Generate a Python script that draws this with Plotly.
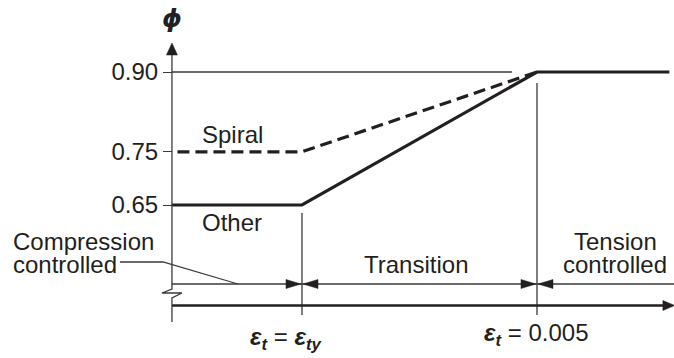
import plotly.graph_objects as go

# strain break points (x) and strength reduction factors (y)
eps_start = 0.00034
eps_ty = 0.002
eps_tc = 0.005
eps_end = 0.00669

other_x = [eps_start, eps_ty, eps_tc, eps_end]
other_phi = [0.65, 0.65, 0.90, 0.90]
spiral_x = [eps_start + 0.00007, eps_ty, eps_tc]
spiral_phi = [0.75, 0.75, 0.90]

phi_ticks = [0.65, 0.75, 0.90]
phi_labels = ["0.65", "0.75", "0.90"]

INK = "#231f20"
THIN = "#3a3a3a"
FONT = "Liberation Sans, Arial, sans-serif"

# layout levels (in data units) for the axis drawing
y_dim = 0.5015      # dimension line
y_axis = 0.4611     # horizontal strain axis
y_top = 0.9545      # tip of the phi axis arrow
y_vline_lo = 0.4432

fig = go.Figure()
fig.add_trace(go.Scatter(x=spiral_x, y=spiral_phi, mode="lines",
                         line=dict(color=INK, width=3.2, dash="12px,6px"),
                         hoverinfo="skip"))
fig.add_trace(go.Scatter(x=other_x, y=other_phi, mode="lines",
                         line=dict(color=INK, width=3.2), hoverinfo="skip"))

line_thin = dict(color=THIN, width=1.3)
shapes = [
    # phi axis, reference line at 0.90 and the two limit lines
    dict(type="line", x0=eps_start, x1=eps_start, y0=y_dim, y1=y_top - 0.015, line=line_thin),
    dict(type="line", x0=eps_start, x1=0.00468, y0=0.90, y1=0.90, line=line_thin),
    dict(type="line", x0=eps_ty, x1=eps_ty, y0=y_vline_lo, y1=0.635, line=line_thin),
    dict(type="line", x0=eps_tc, x1=eps_tc, y0=y_vline_lo, y1=0.8793, line=line_thin),
    # dimension line
    dict(type="line", x0=eps_start, x1=0.0068, y0=y_dim, y1=y_dim, line=line_thin),
    # strain axis
    dict(type="line", x0=eps_start, x1=0.00665, y0=y_axis, y1=y_axis,
         line=dict(color=INK, width=2.6)),
]


def px_path(x, y, path, fill=INK, width=1.3):
    return dict(type="path", xsizemode="pixel", ysizemode="pixel",
                xanchor=x, yanchor=y, path=path, fillcolor=fill,
                line=dict(color=THIN if fill is None else INK, width=width))


# axis break and lower stub of the phi axis
shapes.append(px_path(eps_start, y_dim, "M0,0 V-5 L-10,-9 L10,-9 L0,-14 V-38", fill=None))
# arrow heads
shapes.append(px_path(eps_start, y_top, "M0,0 L-5.5,-12 L5.5,-12 Z", width=0.5))
shapes.append(px_path(0.00676, y_axis, "M0,0 L-12,5 L-12,-5 Z", width=0.5))
for xv in (eps_ty, eps_tc):
    shapes.append(px_path(xv, y_dim, "M-1,0 L-16,4.5 L-16,-4.5 Z", width=0.5))
    shapes.append(px_path(xv, y_dim, "M1,0 L16,4.5 L16,-4.5 Z", width=0.5))
# leader for "Compression controlled"
shapes.append(px_path(0.001183, y_dim, "M0,0 L-75,22 L-118,22", fill=None))
shapes.append(px_path(0.001183, y_dim, "M-2,0 A2,2 0 1,1 2,0 A2,2 0 1,1 -2,0 Z", width=0.5))

tf = dict(family=FONT, size=24, color=INK)
ann = [
    dict(x=eps_start, y=1.0, text="<b><i>ϕ</i></b>", xanchor="center", yanchor="middle",
         font=dict(family="DejaVu Sans, sans-serif", size=25, color=INK)),
    dict(x=0.00111, y=0.782, text="Spiral", xanchor="center", yanchor="middle"),
    dict(x=0.00111, y=0.617, text="Other", xanchor="center", yanchor="middle"),
    dict(x=11 / 674, xref="paper", y=0.582, text="Compression", xanchor="left", yanchor="middle"),
    dict(x=11 / 674, xref="paper", y=0.539, text="controlled", xanchor="left", yanchor="middle"),
    dict(x=0.00345, y=0.5385, text="Transition", xanchor="center", yanchor="middle"),
    dict(x=0.0060, y=0.582, text="Tension", xanchor="center", yanchor="middle"),
    dict(x=0.0060, y=0.5385, text="controlled", xanchor="center", yanchor="middle"),
    dict(x=eps_ty - 0.0002, y=0.3985,
         text="<b><i>ε<sub>t</sub></i></b> = <b><i>ε<sub>ty</sub></i></b>",
         xanchor="center", yanchor="middle"),
    dict(x=eps_tc, y=0.406, text="<b><i>ε<sub>t</sub></i></b> = 0.005",
         xanchor="center", yanchor="middle"),
]
for a in ann:
    a.setdefault("font", tf)
    a["showarrow"] = False

fig.update_layout(
    width=674, height=358,
    margin=dict(l=0, r=0, t=0, b=0),
    paper_bgcolor="white", plot_bgcolor="white",
    showlegend=False,
    shapes=shapes,
    annotations=ann,
    xaxis=dict(range=[-0.001855, 0.006749], visible=False, fixedrange=True),
    yaxis=dict(range=[0.36241, 1.03534], anchor="free", position=172 / 674,
               tickvals=phi_ticks, ticktext=phi_labels, ticks="outside",
               ticklen=9, tickwidth=1.3, tickcolor=THIN, showgrid=False,
               zeroline=False, showline=False, tickfont=tf, fixedrange=True),
)

fig.write_html("out.html", config={"displayModeBar": False},
               post_script="document.body.style.margin='0';document.body.style.overflow='hidden';")
